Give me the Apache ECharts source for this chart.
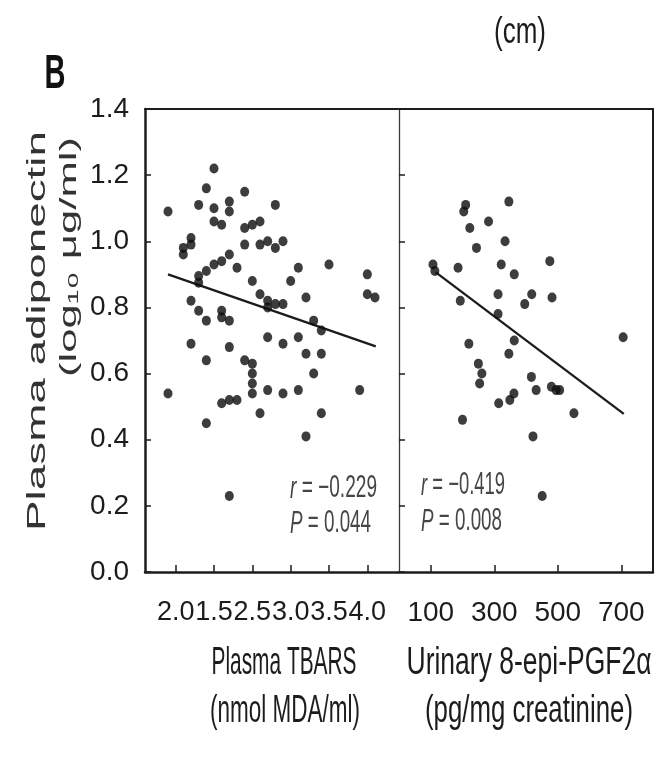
<!DOCTYPE html>
<html>
<head>
<meta charset="utf-8">
<script src="https://cdn.jsdelivr.net/npm/echarts@6.0.0/dist/echarts.min.js"></script>
<style>html,body{margin:0;padding:0;background:#fff}#c{width:668px;height:760px}</style>
</head>
<body>
<div id="c"></div>
<script>
// ---------- data ----------
const tbarsX = [1.40,1.80,1.90,2.00,2.00,2.20,2.20,2.40,2.80,2.00,2.10,2.40,2.50,2.60,1.70,1.70,1.60,1.60,2.40,2.60,
  2.70,2.80,2.90,2.20,2.10,2.00,1.90,1.80,1.80,2.30,3.10,3.50,4.00,2.50,3.00,2.60,4.00,4.10,3.20,1.70,
  2.70,2.80,2.90,2.70,1.80,2.10,2.10,1.90,2.20,3.30,3.40,1.70,2.20,2.70,2.90,3.10,3.20,3.40,1.90,2.40,
  2.50,2.50,3.30,1.40,1.90,2.10,2.20,2.30,2.50,2.50,2.70,2.90,3.10,2.60,3.40,3.20,3.90,2.20];
const tbarsY = [1.09,1.11,1.16,1.22,1.10,1.12,1.09,1.15,1.11,1.06,1.05,1.04,1.05,1.06,1.01,0.99,0.98,0.96,0.99,0.99,
  1.00,0.98,1.00,0.96,0.94,0.93,0.91,0.895,0.875,0.92,0.92,0.93,0.90,0.88,0.88,0.84,0.84,0.83,0.83,0.82,
  0.82,0.81,0.81,0.80,0.79,0.79,0.77,0.76,0.76,0.76,0.73,0.69,0.68,0.71,0.69,0.71,0.66,0.66,0.64,0.64,
  0.63,0.60,0.60,0.54,0.45,0.51,0.52,0.52,0.57,0.54,0.55,0.54,0.55,0.48,0.48,0.41,0.55,0.23];
const pgfX = [107,113,186,210,204,223,282,346,244,334,322,363,475,312,418,193,396,482,312,363,
  220,706,346,250,261,254,417,432,480,495,506,314,349,362,200,551,422,451];
const pgfY = [0.93,0.91,0.92,1.11,1.09,1.04,1.06,1.12,0.98,1.00,0.93,0.90,0.94,0.84,0.84,0.82,0.81,0.83,0.78,0.70,
  0.69,0.71,0.66,0.63,0.60,0.57,0.59,0.55,0.56,0.55,0.55,0.51,0.52,0.54,0.46,0.48,0.41,0.23];
const tbarsFitX = [1.40, 4.11];
const tbarsFitY = [0.90, 0.682];
const pgfFitX = [116, 708];
const pgfFitY = [0.906, 0.478];
const tbarsTicks = [1.5, 2.0, 2.5, 3.0, 3.5, 4.0];
const tbarsTickLabels = ['2.0', '1.5', '2.5', '3.0', '3.5', '4.0'];
const pgfTicks = [100, 300, 500, 700];
const pgfTickLabels = ['100', '300', '500', '700'];
const yTickLabels = ['0.0', '0.2', '0.4', '0.6', '0.8', '1.0', '1.2', '1.4'];
const statsTbars = ['r', ' = \u22120.229', 'P', ' = 0.044'];
const statsPgf = ['r', ' = \u22120.419', 'P', ' = 0.008'];

// ---------- style ----------
const INK = '#1c1c1c';
const GREY = '#454545';
const SANS = "'Liberation Sans', Arial, Helvetica, sans-serif";

const mctx = document.createElement('canvas').getContext('2d');
function fontStr(size, weight, style) {
  return (style || 'normal') + ' ' + (weight || 'normal') + ' ' + size + 'px ' + SANS;
}
function txt(text, cx, cy, targetLen, sy, size, opt) {
  opt = opt || {};
  const plain = opt.plain || text;
  mctx.font = fontStr(size, opt.weight);
  const w = mctx.measureText(plain).width;
  const el = {
    type: 'text', x: cx, y: cy,
    rotation: opt.rot || 0,
    scaleX: targetLen / w, scaleY: sy,
    z: 10,
    style: {
      text: text, font: fontStr(size, opt.weight),
      fill: opt.fill || INK,
      textAlign: opt.align || 'center', textVerticalAlign: 'middle'
    }
  };
  if (opt.rich) el.style.rich = opt.rich;
  return el;
}
function lbl(arr, ticks, v) {
  for (let i = 0; i < ticks.length; i++) if (Math.abs(ticks[i] - v) < 1e-6) return arr[i];
  return '';
}
const italic = { i: { font: fontStr(22, 'normal', 'italic'), fill: GREY } };

const chart = echarts.init(document.getElementById('c'));
const hiddenAxis = (grid, pos, w) => ({
  gridIndex: grid, type: 'value', position: pos, min: 0, max: 1,
  axisLine: { show: true, onZero: false, lineStyle: { color: INK, width: w } },
  axisTick: { show: false }, axisLabel: { show: false }, splitLine: { show: false }
});

chart.setOption({
  animation: false,
  backgroundColor: '#fff',
  grid: [
    { left: 145, top: 109, width: 253, height: 463 },
    { left: 399, top: 109, width: 254, height: 463 }
  ],
  xAxis: [
    { gridIndex: 0, type: 'value', min: 1.1, max: 4.4, position: 'bottom',
      axisLine: { show: true, onZero: false, lineStyle: { color: INK, width: 2.5 } },
      axisTick: { show: true, inside: true, length: 7, customValues: tbarsTicks, lineStyle: { color: INK, width: 1.5 } },
      axisLabel: { show: true, customValues: tbarsTicks, formatter: v => lbl(tbarsTickLabels, tbarsTicks, v),
        color: INK, fontSize: 27, fontFamily: SANS, margin: 27,
        showMinLabel: true, showMaxLabel: true, hideOverlap: false },
      splitLine: { show: false } },
    { gridIndex: 1, type: 'value', min: 0, max: 800, position: 'bottom',
      axisLine: { show: true, onZero: false, lineStyle: { color: INK, width: 2.5 } },
      axisTick: { show: true, inside: true, length: 7, customValues: pgfTicks, lineStyle: { color: INK, width: 1.5 } },
      axisLabel: { show: true, customValues: pgfTicks, formatter: v => lbl(pgfTickLabels, pgfTicks, v),
        color: INK, fontSize: 28, fontFamily: SANS, margin: 27,
        showMinLabel: true, showMaxLabel: true, hideOverlap: false },
      splitLine: { show: false } },
    hiddenAxis(0, 'top', 2),
    hiddenAxis(1, 'top', 2)
  ],
  yAxis: [
    { gridIndex: 0, type: 'value', min: 0, max: 1.4, interval: 0.2,
      axisLine: { show: true, onZero: false, lineStyle: { color: INK, width: 2.5 } },
      axisTick: { show: true, inside: true, length: 6, lineStyle: { color: INK, width: 1.5 } },
      axisLabel: { show: true, formatter: v => yTickLabels[Math.round(v / 0.2)], color: INK,
        fontSize: 28, fontFamily: SANS, margin: 16, showMinLabel: true, showMaxLabel: true, hideOverlap: false },
      splitLine: { show: false } },
    { gridIndex: 1, type: 'value', min: 0, max: 1.4, interval: 0.2,
      axisLine: { show: true, onZero: false, lineStyle: { color: '#3a3a3a', width: 1.3 } },
      axisTick: { show: true, inside: true, length: 6, lineStyle: { color: INK, width: 1.5 } },
      axisLabel: { show: false }, splitLine: { show: false } },
    hiddenAxis(1, 'right', 2)
  ],
  series: [
    { type: 'scatter', xAxisIndex: 0, yAxisIndex: 0, symbol: 'circle', symbolSize: [9, 10],
      itemStyle: { color: '#0d0d0d' }, z: 3,
      data: tbarsX.map((x, i) => [x, tbarsY[i]]) },
    { type: 'line', xAxisIndex: 0, yAxisIndex: 0, symbol: 'none', z: 2,
      lineStyle: { color: INK, width: 2.3 },
      data: tbarsFitX.map((x, i) => [x, tbarsFitY[i]]) },
    { type: 'scatter', xAxisIndex: 1, yAxisIndex: 1, symbol: 'circle', symbolSize: [9, 10],
      itemStyle: { color: '#0d0d0d' }, z: 3,
      data: pgfX.map((x, i) => [x, pgfY[i]]) },
    { type: 'line', xAxisIndex: 1, yAxisIndex: 1, symbol: 'none', z: 2,
      lineStyle: { color: INK, width: 2.3 },
      data: pgfFitX.map((x, i) => [x, pgfFitY[i]]) }
  ],
  graphic: [
    txt('B', 55, 75, 21, 1.75, 27, { weight: 'bold', fill: '#111' }),
    txt('(cm)', 520, 33, 52, 1.55, 24),
    txt('Plasma adiponectin', 38, 331, 400, 1.0, 26, { rot: Math.PI / 2, fill: '#333' }),
    txt('(log\u2081\u2080 \u03bcg/ml)', 69, 257, 240, 1.0, 24, { rot: Math.PI / 2, fill: '#333' }),
    txt('Plasma TBARS', 284, 663, 145, 1.6, 24),
    txt('(nmol MDA/ml)', 285, 711, 150, 1.6, 24),
    txt('Urinary 8-epi-PGF2\u03b1', 529, 663, 245, 1.6, 24),
    txt('(pg/mg creatinine)', 529, 711, 208, 1.6, 24),
    txt('{i|' + statsTbars[0] + '}' + statsTbars[1], 290, 489, 87, 1.4, 22,
      { plain: statsTbars[0] + statsTbars[1], align: 'left', fill: GREY, rich: italic }),
    txt('{i|' + statsTbars[2] + '}' + statsTbars[3], 290, 524, 81, 1.4, 22,
      { plain: statsTbars[2] + statsTbars[3], align: 'left', fill: GREY, rich: italic }),
    txt('{i|' + statsPgf[0] + '}' + statsPgf[1], 421, 486, 84, 1.4, 22,
      { plain: statsPgf[0] + statsPgf[1], align: 'left', fill: GREY, rich: italic }),
    txt('{i|' + statsPgf[2] + '}' + statsPgf[3], 421, 522, 81, 1.4, 22,
      { plain: statsPgf[2] + statsPgf[3], align: 'left', fill: GREY, rich: italic })
  ]
});
</script>
</body>
</html>
